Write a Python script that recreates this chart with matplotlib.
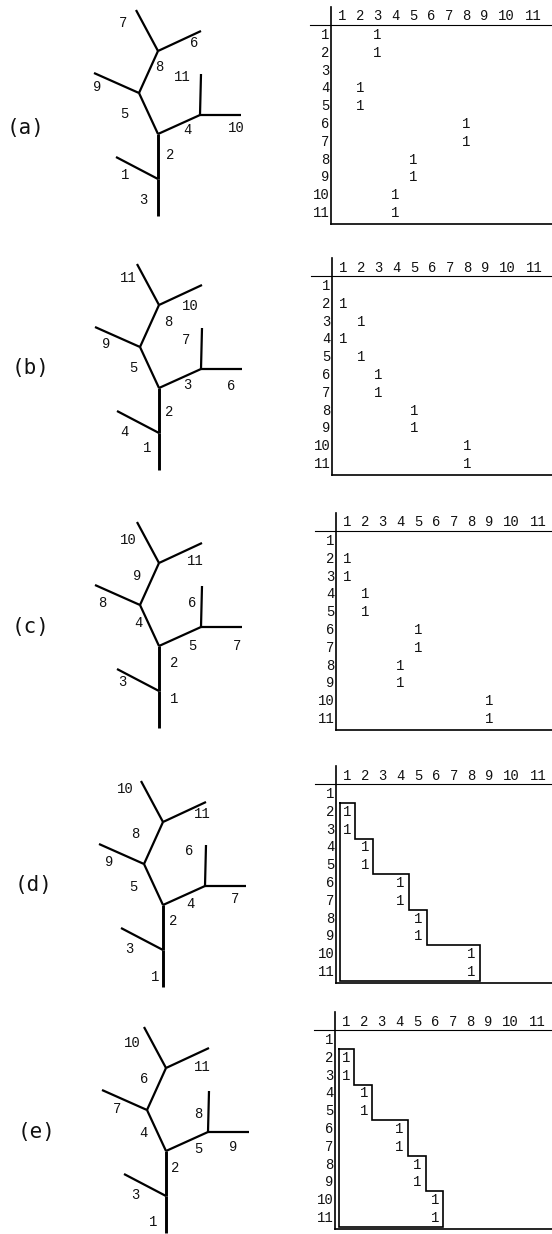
import matplotlib
matplotlib.use("Agg")
import matplotlib.pyplot as plt

# ------------------------------------------------------------------ data
panel_names = ["(a)", "(b)", "(c)", "(d)", "(e)"]

# edge labels of the tree, always listed in the same edge order:
# trunk-bottom, lower-left twig, trunk-upper, right limb, right limb up-twig,
# right limb right-twig, left limb, left limb twig, upper limb,
# upper-left twig, upper-right twig
tree_labels_a = [3, 1, 2, 4, 11, 10, 5, 9, 8, 7, 6]
tree_labels_b = [1, 4, 2, 3, 7, 6, 5, 9, 8, 11, 10]
tree_labels_c = [1, 3, 2, 5, 6, 7, 4, 8, 9, 10, 11]
tree_labels_d = [1, 3, 2, 4, 6, 7, 5, 9, 8, 10, 11]
tree_labels_e = [1, 3, 2, 5, 8, 9, 4, 7, 6, 10, 11]

matrix_labels = [str(i) for i in range(1, 12)]

rows_a = [1, 2, 4, 5, 6, 7, 8, 9, 10, 11]
cols_a = [3, 3, 2, 2, 8, 8, 5, 5, 4, 4]
rows_b = [2, 3, 4, 5, 6, 7, 8, 9, 10, 11]
cols_b = [1, 2, 1, 2, 3, 3, 5, 5, 8, 8]
rows_c = [2, 3, 4, 5, 6, 7, 8, 9, 10, 11]
cols_c = [1, 1, 2, 2, 5, 5, 4, 4, 9, 9]
rows_d = [2, 3, 4, 5, 6, 7, 8, 9, 10, 11]
cols_d = [1, 1, 2, 2, 4, 4, 5, 5, 8, 8]
rows_e = [2, 3, 4, 5, 6, 7, 8, 9, 10, 11]
cols_e = [1, 1, 2, 2, 4, 4, 5, 5, 6, 6]
entry_value = "1"

boxed = [False, False, False, True, True]

tree_labels = [tree_labels_a, tree_labels_b, tree_labels_c, tree_labels_d, tree_labels_e]
entry_rows = [rows_a, rows_b, rows_c, rows_d, rows_e]
entry_cols = [cols_a, cols_b, cols_c, cols_d, cols_e]

# ------------------------------------------------------------------ layout (pixels)
W, H = 552, 1234
tree_nodes = {
    "R": (0, 82), "A": (0, 45), "L": (-42, 23), "B": (0, 0),
    "C": (42, -19), "Cu": (43, -60), "Cr": (83, -19),
    "D": (-19, -41), "Dl": (-64, -61), "E": (0, -83),
    "El": (-22, -124), "Er": (43, -103),
}
tree_edges = [("A", "R"), ("A", "L"), ("A", "B"), ("B", "C"), ("C", "Cu"),
              ("C", "Cr"), ("B", "D"), ("D", "Dl"), ("D", "E"), ("E", "El"),
              ("E", "Er")]
trunk_edges = {0, 2}

tree_anchor = [(158, 134), (159, 388), (159, 646), (163, 905), (166, 1151)]
panel_label_pos = [(26, 128), (31, 368), (31, 627), (34, 885), (37, 1132)]
label_offsets = [
    [(-15, 66), (-33, 41), (12, 21), (29, -4), (24, -57), (78, -6), (-34, -20),
     (-61, -47), (1, -67), (-35, -111), (36, -91)],
    [(-12, 60), (-35, 44), (10, 24), (28, -3), (27, -48), (72, -2), (-26, -20),
     (-53, -44), (9, -66), (-31, -110), (31, -82)],
    [(15, 53), (-37, 36), (15, 17), (33, 0), (33, -43), (78, 0), (-21, -23),
     (-57, -43), (-22, -70), (-31, -106), (36, -85)],
    [(-8, 72), (-34, 44), (10, 16), (27, -1), (26, -54), (72, -6), (-30, -18),
     (-54, -43), (-28, -71), (-38, -116), (39, -91)],
    [(-13, 71), (-31, 44), (9, 17), (32, -2), (32, -37), (67, -4), (-23, -18),
     (-49, -42), (-22, -72), (-34, -108), (36, -84)],
]
matrix_col1_x = [342, 343, 347, 347, 346]
matrix_row1_y = [35, 286, 541, 794, 1040]
CW = 8.9     # typewriter character pitch
RH = 17.8    # row pitch

MONO = ["Liberation Mono", "DejaVu Sans Mono"]
digit_size = 10

# header positions come from the typewriter string "1 2 3 ... 10 11"
centers = []
pos = 0
for lab in matrix_labels:
    centers.append(pos + (len(lab) - 1) / 2)
    pos += len(lab) + 1

fig = plt.figure(figsize=(W / 100, H / 100), dpi=100)
ax = fig.add_axes([0, 0, 1, 1])
ax.set_xlim(0, W)
ax.set_ylim(H, 0)
ax.axis("off")

for p in range(5):
    bx, by = tree_anchor[p]
    # ---- tree
    for k, (n0, n1) in enumerate(tree_edges):
        x0, y0 = tree_nodes[n0]
        x1, y1 = tree_nodes[n1]
        ax.plot([bx + x0, bx + x1], [by + y0, by + y1], color="black",
                lw=2.1 if k in trunk_edges else 1.6, solid_capstyle="butt")
        ox, oy = label_offsets[p][k]
        ax.text(bx + ox, by + oy, str(tree_labels[p][k]), ha="center", va="center",
                family=MONO, fontsize=digit_size, color="#111111")
    lx, ly = panel_label_pos[p]
    ax.text(lx, ly, panel_names[p], ha="center", va="center",
            family=["DejaVu Sans Mono"], fontsize=15, color="#111111")

    # ---- matrix
    c1 = matrix_col1_x[p]
    r1 = matrix_row1_y[p]
    colx = lambda j: c1 + centers[j - 1] * CW
    rowy = lambda i: r1 + (i - 1) * RH
    vline = c1 - 11.5
    top = r1 - 28
    bottom = rowy(len(matrix_labels)) + 11
    hy = r1 - 10
    ax.plot([vline, vline], [top, bottom], color="black", lw=1.2)
    ax.plot([c1 - 32, W], [hy, hy], color="black", lw=0.8)
    ax.plot([vline, W], [bottom, bottom], color="black", lw=1.2)
    for j, lab in enumerate(matrix_labels, start=1):
        ax.text(colx(j), r1 - 18.5, lab, ha="center", va="center",
                family=MONO, fontsize=digit_size, color="#111111")
        ax.text(vline - 1.0, rowy(j), lab, ha="right", va="center",
                family=MONO, fontsize=digit_size, color="#111111")
    for i, j in zip(entry_rows[p], entry_cols[p]):
        ax.text(colx(j), rowy(i), entry_value, ha="center", va="center",
                family=MONO, fontsize=digit_size, color="#111111")

    # ---- block staircase enclosing the entries
    if boxed[p]:
        left = c1 - 7.5
        order = sorted(zip(entry_rows[p], entry_cols[p]))
        xs = [left]
        ys = [rowy(order[0][0]) - RH / 2]
        for i, j in order:
            xr = colx(j) + 0.95 * CW
            xs += [xr, xr]
            ys += [rowy(i) - RH / 2, rowy(i) + RH / 2]
        xs += [left, left]
        ys += [ys[-1], ys[0]]
        ax.plot(xs, ys, color="black", lw=1.2, solid_joinstyle="miter")

fig.savefig("out.png", dpi=100)
